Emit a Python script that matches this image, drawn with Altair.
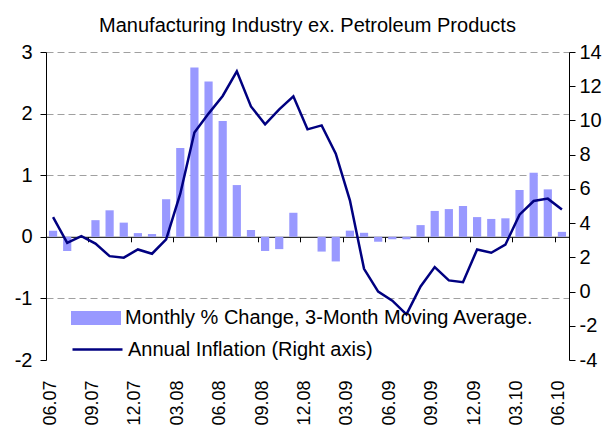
import altair as alt
import pandas as pd

FONT = "Liberation Sans"

months = ["06.07", "07.07", "08.07", "09.07", "10.07", "11.07", "12.07",
          "01.08", "02.08", "03.08", "04.08", "05.08", "06.08", "07.08",
          "08.08", "09.08", "10.08", "11.08", "12.08", "01.09", "02.09",
          "03.09", "04.09", "05.09", "06.09", "07.09", "08.09", "09.09",
          "10.09", "11.09", "12.09", "01.10", "02.10", "03.10", "04.10",
          "05.10", "06.10"]

monthly_change = [0.10, -0.23, 0.0, 0.27, 0.43, 0.23, 0.06,
                  0.045, 0.61, 1.44, 2.75, 2.52, 1.88, 0.84,
                  0.11, -0.23, -0.20, 0.39, 0.0, -0.24, -0.40,
                  0.10, 0.065, -0.08, -0.04, -0.04, 0.19, 0.42,
                  0.45, 0.50, 0.32, 0.29, 0.30, 0.76, 1.04,
                  0.77, 0.08]

annual_inflation = [4.35, 2.85, 3.24, 2.8, 2.07, 1.98, 2.46,
                    2.21, 3.05, 5.72, 9.29, 10.4, 11.43, 12.87,
                    10.82, 9.77, 10.65, 11.41, 9.48, 9.71, 8.06,
                    5.33, 1.33, 0.0, -0.53, -1.33, 0.3, 1.43,
                    0.65, 0.55, 2.46, 2.27, 2.74, 4.49, 5.29,
                    5.43, 4.8]

label_months = months[::3]
left_ticks = [-2, -1, 0, 1, 2, 3]
right_ticks = [-4, -2, 0, 2, 4, 6, 8, 10, 12, 14]

BAR_LABEL = "Monthly % Change, 3-Month Moving Average."
LINE_LABEL = "Annual Inflation (Right axis)"
TITLE = "Manufacturing Industry ex. Petroleum Products"

W, H = 523, 308
LEFT_DOMAIN = [-2, 3]
RIGHT_DOMAIN = [-4, 14]
PAD_INNER = 0.42
step = W / len(months)
tick_shift = -PAD_INNER / 2 * step
zero_offset = -(H * (0 - LEFT_DOMAIN[0]) / (LEFT_DOMAIN[1] - LEFT_DOMAIN[0]))

df = pd.DataFrame({
    "month": months,
    "change": monthly_change,
    "inflation": annual_inflation,
    "s1": BAR_LABEL,
    "s2": LINE_LABEL,
})

xscale = alt.Scale(paddingInner=PAD_INNER, paddingOuter=PAD_INNER / 2)

bars = alt.Chart(df).mark_bar().encode(
    x=alt.X("month:N", sort=months, scale=xscale, title=None,
            axis=alt.Axis(orient="bottom", values=label_months, labels=False,
                          ticks=True, tickSize=5, tickColor="black",
                          tickWidth=1, domainColor="black", domainWidth=1,
                          bandPosition=0, tickOffset=tick_shift,
                          offset=zero_offset, grid=False)),
    y=alt.Y("change:Q", title=None,
            scale=alt.Scale(domain=LEFT_DOMAIN, nice=False),
            axis=alt.Axis(orient="left", values=left_ticks,
                          labelExpr="datum.value + ''",
                          grid=True, gridDash=[7, 4], gridColor="#a0a0a0",
                          gridWidth=1,
                          gridOpacity={"condition": {"test": "datum.value === -2 || datum.value === 0", "value": 0}, "value": 1},
                          tickSize=6, tickColor="black", domainColor="black",
                          labelFontSize=20, labelFont=FONT, labelColor="black",
                          labelPadding=8)),
    color=alt.Color("s1:N", scale=alt.Scale(range=["#9999FF"]),
                    legend=alt.Legend(orient="none", legendX=25, legendY=241,
                                      title=None,
                                      symbolType="M-1,-0.28H1V0.28H-1Z",
                                      symbolSize=2500, symbolStrokeWidth=0,
                                      labelFontSize=20, labelFont=FONT,
                                      labelColor="black", labelOffset=4,
                                      padding=0, labelLimit=0)),
)

line = alt.Chart(df).mark_line(strokeWidth=2.5).encode(
    x=alt.X("month:N", sort=months, scale=xscale, title=None,
            axis=alt.Axis(orient="bottom", values=label_months, labelAngle=-90,
                          bandPosition=0, tickOffset=tick_shift,
                          domain=False, ticks=False, labelPadding=20,
                          labelFontSize=18, labelFont=FONT,
                          labelColor="black", labelOverlap=False,
                          grid=False)),
    y=alt.Y("inflation:Q", title=None,
            scale=alt.Scale(domain=RIGHT_DOMAIN, nice=False),
            axis=alt.Axis(orient="right", values=right_ticks,
                          labelExpr="datum.value + ''",
                          grid=False, tickSize=6, tickColor="black",
                          domainColor="black", labelFontSize=20,
                          labelFont=FONT, labelColor="black",
                          labelPadding=4)),
    stroke=alt.Stroke("s2:N", scale=alt.Scale(range=["#000080"]),
                      legend=alt.Legend(orient="none", legendX=25,
                                        legendY=271, title=None,
                                        symbolType="stroke", symbolSize=2500,
                                        symbolStrokeWidth=2.5,
                                        labelFontSize=20, labelFont=FONT,
                                        labelColor="black", labelOffset=4,
                                        padding=0, labelLimit=0)),
)

chart = alt.layer(bars, line).resolve_scale(
    y="independent"
).resolve_axis(
    x="independent"
).properties(
    width=W, height=H,
    title=alt.TitleParams(TITLE, fontSize=20, font=FONT, fontWeight="normal",
                          color="black", anchor="middle", offset=-10,
                          baseline="alphabetic", frame="group"),
    padding={"left": 38, "top": 44, "right": 33, "bottom": 66},
    autosize=alt.AutoSizeParams(type="none"),
).configure_view(stroke=None)

chart.save("out.html", embed_options={"renderer": "svg", "actions": False})
